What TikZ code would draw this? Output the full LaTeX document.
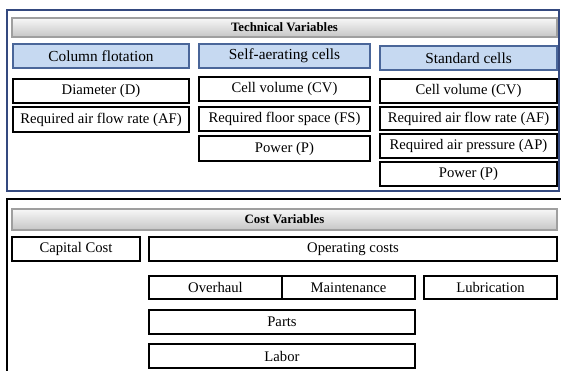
\documentclass[tikz,border=0pt]{standalone}
\usepackage{fontspec}
\setmainfont{Liberation Serif}
\usetikzlibrary{shadows}
\definecolor{frameblue}{HTML}{34497F}
\definecolor{hdrfill}{HTML}{C6D9F1}
\definecolor{hdrdraw}{HTML}{4A6699}
\tikzset{
  base/.style={rectangle, inner sep=0pt, outer sep=0pt, font=\fontsize{11}{13}\selectfont},
  valbox/.style={base, draw=black, line width=1.1pt, fill=white,
    drop shadow={shadow xshift=0.8pt, shadow yshift=-0.8pt, fill=gray!60, opacity=0.5}},
  hdrbox/.style={base, draw=hdrdraw, line width=1.3pt, fill=hdrfill, font=\fontsize{11.5}{13}\selectfont,
    drop shadow={shadow xshift=0.8pt, shadow yshift=-0.8pt, fill=gray!70, opacity=0.5}},
  titlebar/.style={base, draw=gray!75, line width=0.8pt, top color=gray!6, bottom color=gray!45,
    font=\fontsize{9.6}{11}\selectfont\bfseries,
    drop shadow={shadow xshift=1pt, shadow yshift=-1pt, fill=gray!60, opacity=0.5}},
}
\newcommand\bx[7]{\node[#1, minimum width={(#5-#3)*0.75pt}, minimum height={(#6-#4)*0.75pt}] (#2) at ({(#3+#5)/2},{(#4+#6)/2}) {#7};}
\begin{document}
\begin{tikzpicture}[x=0.75pt,y=-0.75pt]
\useasboundingbox (0,0) rectangle (561,371);
\clip (0,0) rectangle (561,371);
% frames
\draw[frameblue, line width=1.2pt] (7,10) rectangle (559,191);
\draw[black, line width=1.4pt] (7,380) -- (7,199) -- (570,199);
% technical variables
\bx{titlebar}{tv}{12}{18}{557}{37}{Technical Variables}
\bx{hdrbox}{cf}{13}{44}{189}{68}{Column flotation}
\bx{hdrbox}{sa}{199}{44}{370}{68}{Self-aerating cells}
\bx{hdrbox}{sc}{380}{46}{557}{70}{Standard cells}
\bx{valbox}{cfd}{13}{79}{189}{103}{Diameter (D)}
\bx{valbox}{cfaf}{13}{107}{189}{132}{Required air flow rate (AF)}
\bx{valbox}{sacv}{199}{77}{370}{101}{Cell volume (CV)}
\bx{valbox}{safs}{199}{107}{370}{131}{Required floor space (FS)}
\bx{valbox}{sap}{199}{136}{370}{161}{Power (P)}
\bx{valbox}{sccv}{380}{79}{557}{103}{Cell volume (CV)}
\bx{valbox}{scaf}{380}{107}{557}{130}{Required air flow rate (AF)}
\bx{valbox}{scap}{380}{134}{557}{158}{Required air pressure (AP)}
\bx{valbox}{scp}{380}{162}{557}{186}{Power (P)}
% cost variables
\bx{titlebar}{cv}{12}{209}{557}{230}{Cost Variables}
\bx{valbox}{cap}{12}{237}{140}{261}{Capital Cost}
\bx{valbox}{op}{149}{237}{557}{261}{Operating costs}
\bx{valbox}{ovh}{149}{276}{282}{299}{Overhaul}
\bx{valbox}{mnt}{282}{276}{415}{299}{Maintenance}
\bx{valbox}{lub}{424}{276}{557}{299}{Lubrication}
\bx{valbox}{prt}{149}{310}{415}{334}{Parts}
\bx{valbox}{lab}{149}{344}{415}{368}{Labor}
\end{tikzpicture}
\end{document}
